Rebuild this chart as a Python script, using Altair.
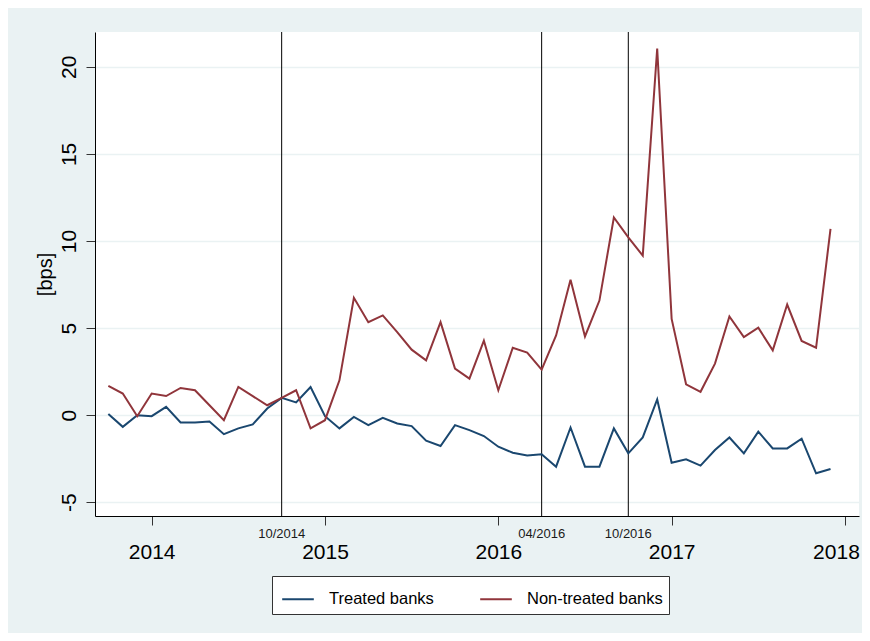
import altair as alt
import pandas as pd

# Monthly observations, Oct 2013 .. Dec 2017
months = [f"{y}-{m:02d}" for y in range(2013, 2018) for m in range(1, 13)
          if (y, m) >= (2013, 10)]

treated = [0.06, -0.67, 0.0, -0.06, 0.48, -0.42, -0.42, -0.36, -1.09, -0.76,
           -0.53, 0.38, 0.99, 0.73, 1.62, -0.06, -0.76, -0.10, -0.57, -0.15,
           -0.48, -0.63, -1.47, -1.77, -0.57, -0.86, -1.20, -1.81, -2.16, -2.31,
           -2.25, -2.96, -0.71, -2.96, -2.96, -0.76, -2.19, -1.28, 0.90, -2.73,
           -2.54, -2.90, -2.00, -1.28, -2.19, -0.95, -1.91, -1.91, -1.35, -3.34,
           -3.09]

non_treated = [1.68, 1.24, -0.06, 1.24, 1.10, 1.56, 1.43, 0.57, -0.29, 1.62,
               1.09, 0.57, 0.99, 1.43, -0.76, -0.29, 2.00, 6.74, 5.34, 5.73,
               4.77, 3.76, 3.15, 5.34, 2.67, 2.10, 4.28, 1.43, 3.87, 3.59,
               2.61, 4.58, 7.77, 4.52, 6.58, 11.35, 10.21, 9.16, 21.05, 5.53,
               1.77, 1.34, 2.96, 5.67, 4.48, 5.02, 3.72, 6.35, 4.26, 3.87,
               10.69]

series_names = ["Treated banks", "Non-treated banks"]
series_colors = ["#1a476f", "#90353b"]

event_labels = ["10/2014", "04/2016", "10/2016"]
year_ticks = [2014, 2015, 2016, 2017, 2018]
y_ticks = [-5, 0, 5, 10, 15, 20]


def to_year(ym):
    y, m = ym.split("-")
    return int(y) + (int(m) - 1) / 12


xs = [to_year(m) for m in months]
rows = []
for x, t, n in zip(xs, treated, non_treated):
    rows.append({"x": x, "value": t, "series": series_names[0]})
    rows.append({"x": x, "value": n, "series": series_names[1]})
df = pd.DataFrame(rows)

ev = pd.DataFrame({
    "label": event_labels,
    "x": [int(l.split("/")[1]) + (int(l.split("/")[0]) - 1) / 12 for l in event_labels],
})

W, H = 764, 484
FONT = "Liberation Sans"

xscale = alt.Scale(domain=[2013.673, 2018.081], nice=False, zero=False)
yscale = alt.Scale(domain=[-5.79, 22.0], nice=False, zero=False)

xaxis = alt.Axis(values=year_ticks, format="d", title=None, grid=False,
                 tickSize=9, tickColor="#333333", labelFontSize=21,
                 labelPadding=16, labelColor="#000000", domainColor="#000000",
                 labelFont=FONT,
                 labelOffset={"condition": {"test": "datum.value == 2018", "value": -9},
                              "value": 0})
yaxis = alt.Axis(values=y_ticks, title="[bps]", grid=True, gridColor="#eaf2f3",
                 gridWidth=1.5, tickSize=9, tickColor="#333333",
                 labelExpr="toString(datum.value)",
                 labelFontSize=21, labelAngle=-90, labelAlign="center",
                 labelBaseline="alphabetic", labelPadding=11,
                 labelColor="#000000", domainColor="#000000", labelFont=FONT,
                 titleFont=FONT, titleFontSize=20, titleFontWeight="normal",
                 titleColor="#000000", titleAngle=-90, titleX=-50, titleY=H / 2,
                 titleAlign="center", titleBaseline="middle")

rules = alt.Chart(ev).mark_rule(color="#000000", strokeWidth=1).encode(
    x=alt.X("x:Q", scale=xscale, axis=xaxis)
)

rule_text = alt.Chart(ev).mark_text(
    fontSize=13, font=FONT, baseline="alphabetic", align="center", color="#1a1a1a"
).encode(
    x=alt.X("x:Q", scale=xscale),
    y=alt.value(506),
    text="label:N",
)

lines = alt.Chart(df).mark_line(strokeWidth=2).encode(
    x=alt.X("x:Q", scale=xscale, axis=xaxis),
    y=alt.Y("value:Q", scale=yscale, axis=yaxis),
    color=alt.Color(
        "series:N",
        scale=alt.Scale(domain=series_names, range=series_colors),
        legend=alt.Legend(
            title=None, orient="none", legendX=177, legendY=544,
            direction="horizontal", symbolType="stroke", symbolSize=1000,
            symbolStrokeWidth=2, labelFontSize=16.5, labelFont=FONT,
            labelColor="#000000", labelOffset=14, columnPadding=42,
            padding=6, symbolOffset=3, fillColor="#ffffff",
            strokeColor="#333333",
        ),
    ),
    order="x:Q",
)

chart = alt.layer(rules, lines, rule_text).properties(
    width=W, height=H,
    background="#eaf2f3",
    padding={"left": 87, "top": 24, "right": 3, "bottom": 117},
    autosize=alt.AutoSizeParams(type="none"),
).configure_view(fill="#ffffff", strokeWidth=0)

chart.save("out.html", embed_options={"renderer": "svg", "actions": False})
